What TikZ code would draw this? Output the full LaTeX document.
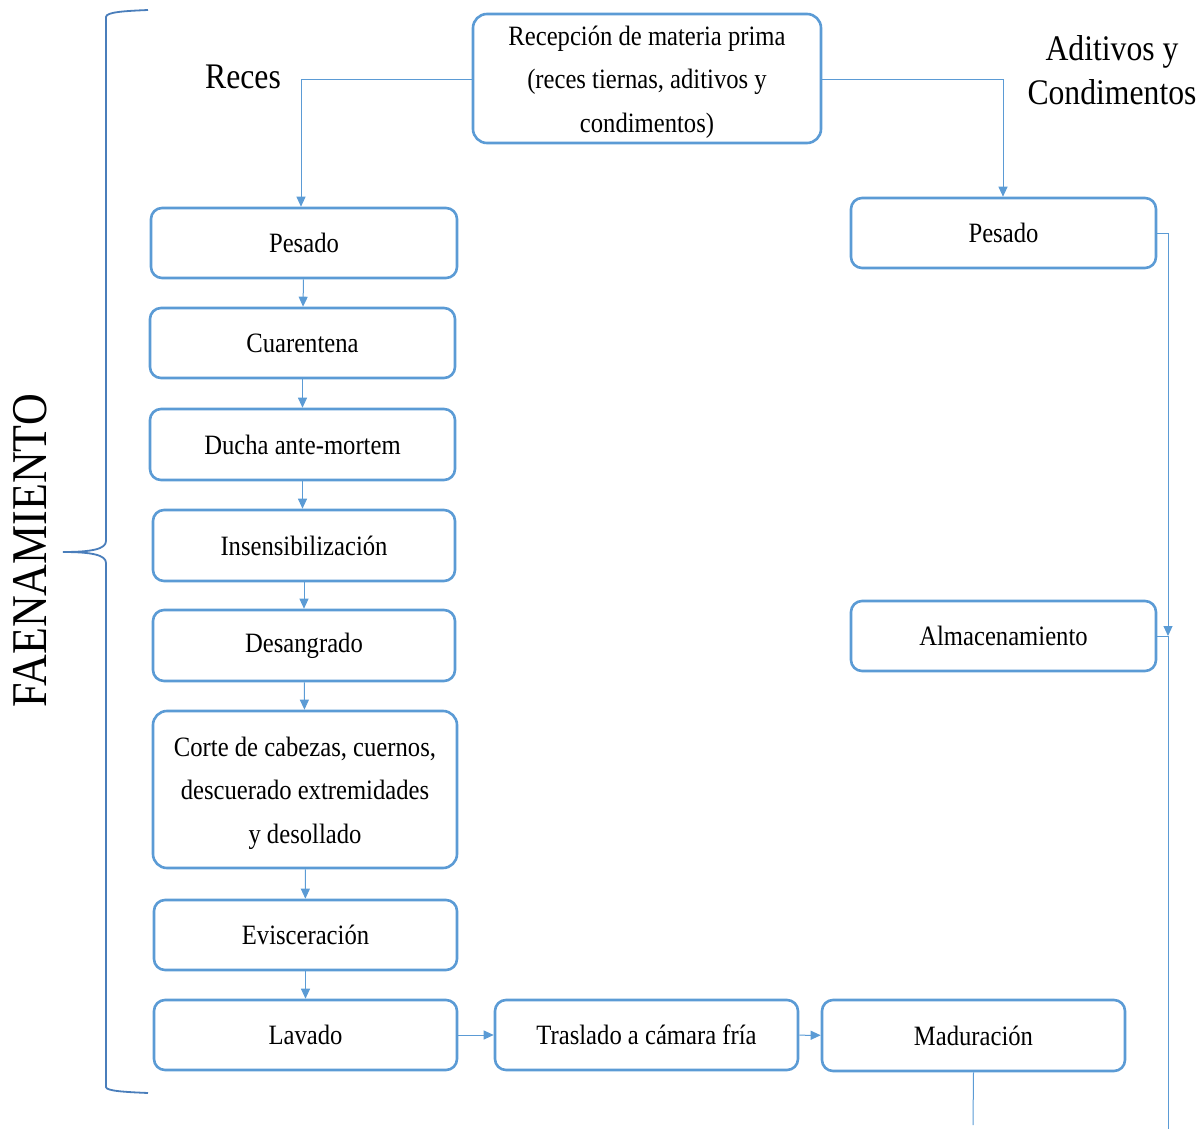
\documentclass[tikz,border=0pt]{standalone}
\usepackage{fontspec}
\setmainfont[FakeStretch=0.88]{Liberation Serif}
\usetikzlibrary{arrows.meta,positioning}
\definecolor{boxblue}{HTML}{5B9BD5}
\definecolor{bracecol}{HTML}{4A7EBB}
\begin{document}
\begin{tikzpicture}[x=1pt,y=-1pt,
  stepbox/.style={draw=boxblue,line width=2.6pt,rounded corners=11pt,fill=white,
    inner sep=0pt,align=center,font=\fontsize{28}{43.5}\selectfont},
  boxtext/.style={inner sep=0pt,align=center,font=\fontsize{28}{43.5}\selectfont},
  link/.style={draw=boxblue,line width=1pt,-{Triangle[length=10pt,width=9pt]}},
  plain/.style={draw=boxblue,line width=1pt},
  heading/.style={font=\fontsize{36}{44}\selectfont,align=center}]
\useasboundingbox (0,0) rectangle (1203,1129);

% process steps
\node[stepbox,minimum width=348pt,minimum height=129pt,rounded corners=14pt] (rec) at (647,78.5) {};
\node[boxtext] (rectxt) at (647,82) {Recepción de materia prima\\(reces tiernas, aditivos y\\condimentos)};
\node[stepbox,minimum width=306pt,minimum height=70pt] (pes) at (304,243) {Pesado};
\node[stepbox,minimum width=305pt,minimum height=70pt] (cua) at (302.5,343) {Cuarentena};
\node[stepbox,minimum width=305pt,minimum height=71pt] (duc) at (302.5,444.5) {Ducha ante-mortem};
\node[stepbox,minimum width=302pt,minimum height=71pt] (ins) at (304,545.5) {Insensibilización};
\node[stepbox,minimum width=302pt,minimum height=71pt] (des) at (304,645.5) {Desangrado};
\node[stepbox,minimum width=304pt,minimum height=157pt,rounded corners=14pt] (cor) at (305,789.5) {};
\node[boxtext] (cortxt) at (305,793) {Corte de cabezas, cuernos,\\descuerado extremidades\\y desollado};
\node[stepbox,minimum width=303pt,minimum height=70pt] (evi) at (305.5,935) {Evisceración};
\node[stepbox,minimum width=303pt,minimum height=70pt] (lav) at (305.5,1035) {Lavado};
\node[stepbox,minimum width=303pt,minimum height=70pt] (tra) at (646.5,1035) {Traslado a cámara fría};
\node[stepbox,minimum width=303pt,minimum height=71pt] (mad) at (973.5,1035.5) {Maduración};
\node[stepbox,minimum width=305pt,minimum height=70pt] (pad) at (1003.5,233) {Pesado};
\node[stepbox,minimum width=305pt,minimum height=70pt] (alm) at (1003.5,636) {Almacenamiento};

% labels
\node[heading] (reces) at (243,77) {Reces};
\node[heading] (adit) at (1112,70) {Aditivos y\\Condimentos};
\node[font=\fontsize{50}{50}\selectfont,rotate=90] (faen) at (30,551) {FAENAMIENTO};

% brace
\draw[bracecol,line width=1.8pt] (148,10) .. controls (125,11) and (106,12) .. (106,17)
  -- (106,541) .. controls (106,549) and (92,552) .. (63,552)
  .. controls (92,552) and (106,555) .. (106,563)
  -- (106,1087) .. controls (106,1091) and (125,1092) .. (148,1093);

% coordinates for free ends and junctions
\coordinate (jl) at (301,80);
\coordinate (jr) at (1003,80);
\coordinate (rtop) at (1168,233);
\coordinate (rjoin) at (1168,636);
\coordinate (rend) at (1168,1129);
\coordinate (mend) at (973,1125);

% connectors
\draw[link] (rec.west |- jl) -- (jl) -- (jl |- pes.north);
\draw[link] (rec.east |- jr) -- (jr) -- (jr |- pad.north);
\draw[link] (pes) -- (cua);
\draw[link] (cua) -- (duc);
\draw[link] (duc.south) -- (duc.south |- ins.north);
\draw[link] (ins) -- (des);
\draw[link] (des) -- (cor);
\draw[link] (cor) -- (evi);
\draw[link] (evi) -- (lav);
\draw[link] (lav) -- (tra);
\draw[link] (tra) -- (mad);
\draw[link] (pad.east) -- (rtop) -- (rjoin);
\draw[plain] (alm.east) -- (rjoin) -- (rend);
\draw[plain] (mad.south) -- (mend);
\end{tikzpicture}
\end{document}
